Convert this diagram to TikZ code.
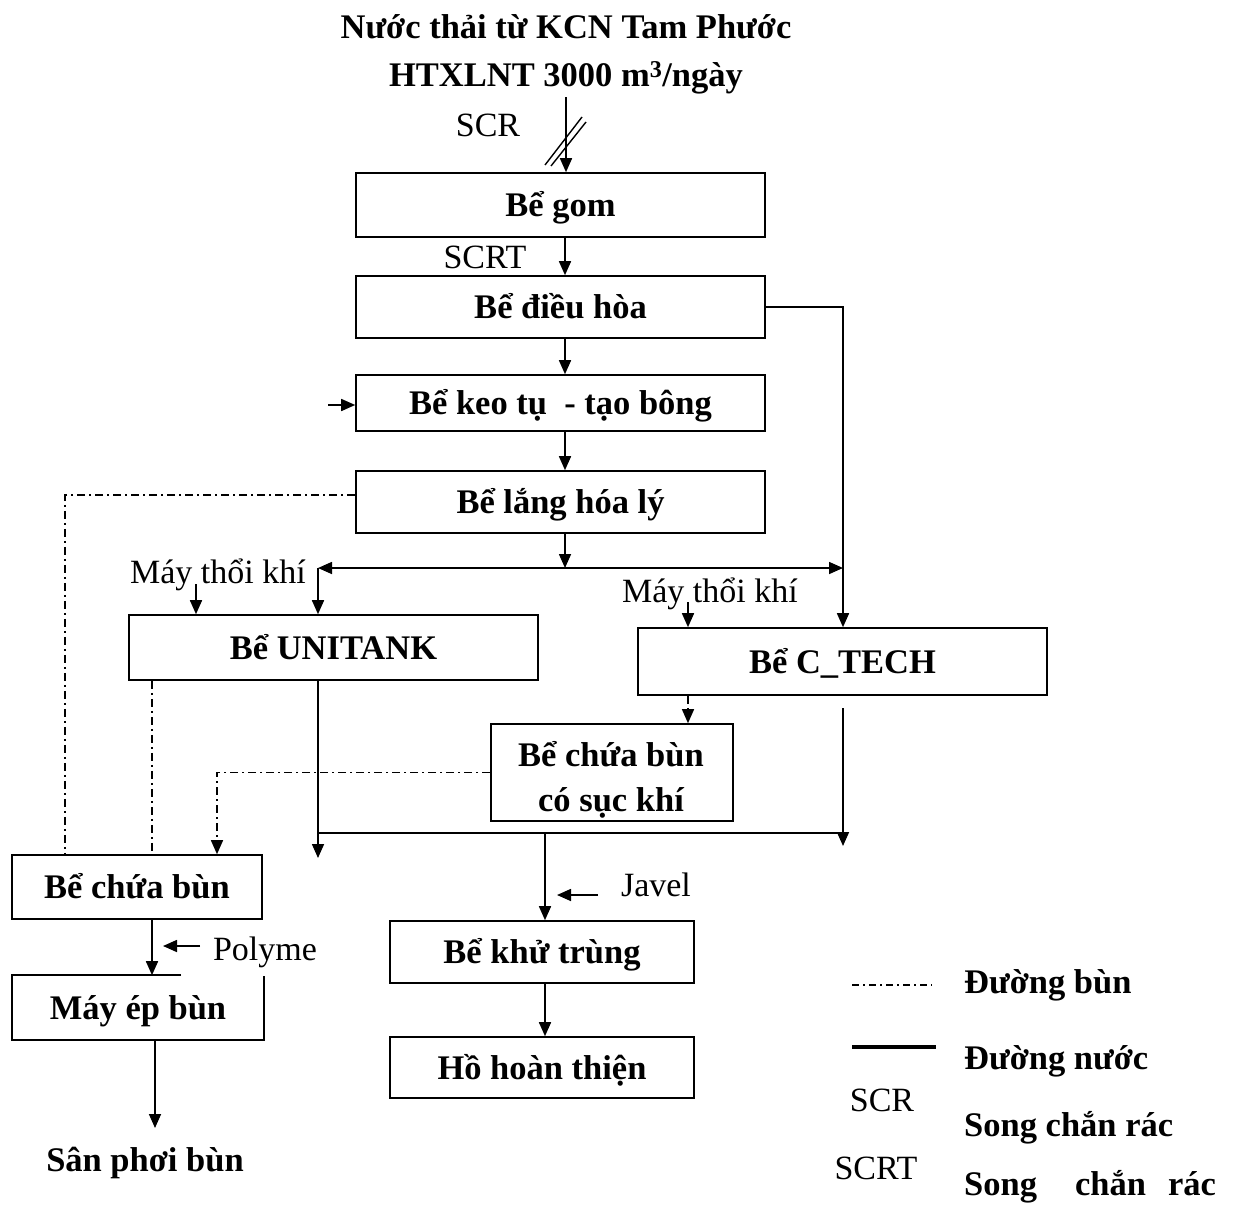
\documentclass[tikz,border=0pt]{standalone}
\usepackage{fontspec}
\setmainfont{Liberation Serif}
\usetikzlibrary{arrows.meta,calc}
\newcommand\fbx{\fontsize{34.5}{42}\selectfont\bfseries}
\newcommand\frg{\fontsize{34}{42}\selectfont}
\begin{document}
\begin{tikzpicture}[x=1pt,y=-1pt,
  wline/.style={line width=1.6pt},
  arr/.style={wline,-{Triangle[length=14pt,width=12pt]}},
  sludge/.style={line width=1.4pt,dash pattern=on 8pt off 4pt on 2pt off 4pt},
  box/.style={draw,line width=1.6pt,inner sep=0pt,font=\fbx,text height=23pt,text depth=0pt},
  lbl/.style={inner sep=0pt,font=\frg,text height=22.5pt,text depth=0pt},
  blbl/.style={inner sep=0pt,font=\fbx,text height=23pt,text depth=0pt}]
\useasboundingbox (0,0) rectangle (1237,1207);
\fill[white] (0,0) rectangle (1237,1207);

% title
\node[blbl] (t1) at (566,27) {Nước thải từ KCN Tam Phước};
\node[blbl] (t2) at (566,75) {HTXLNT 3000 m\textsuperscript{3}/ngày};

% boxes
\node[box,minimum width=409pt,minimum height=64pt] (gom) at (560.5,205) {Bể gom};
\node[box,minimum width=409pt,minimum height=62pt] (dh) at (560.5,307) {Bể điều hòa};
\node[box,minimum width=409pt,minimum height=56pt] (kt) at (560.5,403) {Bể keo tụ\ \ - tạo bông};
\node[box,minimum width=409pt,minimum height=62pt] (lang) at (560.5,502) {Bể lắng hóa lý};
\node[box,minimum width=409pt,minimum height=65pt] (uni) at (333.5,647.5) {Bể UNITANK};
\node[box,minimum width=409pt,minimum height=67pt] (ct) at (842.5,661.5) {Bể C\_TECH};
\node[draw,line width=1.6pt,minimum width=242pt,minimum height=97pt,inner sep=0pt] (sk) at (612,772.5) {};
\node[blbl] (sk1) at (611,755) {Bể chứa bùn};
\node[blbl] (sk2) at (611,800) {có sục khí};
\node[box,minimum width=250pt,minimum height=64pt] (cb) at (137,887) {Bể chứa bùn};
\node[box,draw=none,minimum width=250pt,minimum height=63pt] (mep) at (138,1007.5) {Máy ép bùn};
\draw[wline] ($(mep.north west)+(169,0)$) -- (mep.north west) -- (mep.south west) -- (mep.south east) -- ($(mep.north east)+(0,1)$);
\node[box,minimum width=304pt,minimum height=62pt] (ktr) at (542,952) {Bể khử trùng};
\node[box,minimum width=304pt,minimum height=61pt] (hht) at (542,1067.5) {Hồ hoàn thiện};
\node[blbl] (san) at (145,1160) {Sân phơi bùn};

% labels
\node[lbl] (scr) at (488,125) {SCR};
\node[lbl] (scrt) at (485,257) {SCRT};
\node[lbl] (mtk1) at (218,572) {Máy thổi khí};
\node[lbl] (mtk2) at (710,591) {Máy thổi khí};
\node[lbl] (jav) at (656,885) {Javel};
\node[lbl] (pol) at (265,949) {Polyme};

% coordinates
\coordinate (src) at (566,97);
\coordinate (mx) at (565,0);
\coordinate (j1) at (565,568);
\coordinate (jl) at (318,568);
\coordinate (jr) at (843,568);
\coordinate (b1) at (196,584);
\coordinate (b2) at (688,602);
\coordinate (kf) at (328,405);
\coordinate (x65) at (65,0);
\coordinate (x152) at (152,0);
\coordinate (x217) at (217,0);
\coordinate (h1) at (318,833);
\coordinate (h2) at (843,833);
\coordinate (w1) at (318,858);
\coordinate (c1) at (843,708);
\coordinate (c2) at (843,846);
\coordinate (jk) at (545,833);
\coordinate (jv) at (598,895);
\coordinate (jv2) at (557,895);
\coordinate (p1) at (200,946);
\coordinate (p2) at (163,946);
\coordinate (m1) at (155,0);
\coordinate (sanT) at (155,1128);

% main water line
\draw[arr] (src) -- (src |- gom.north);
\draw[line width=1.4pt] (545,165) -- (582,117);
\draw[line width=1.4pt] (551,166) -- (586,122);
\draw[arr] (gom.south -| mx) -- (dh.north -| mx);
\draw[arr] (dh.south -| mx) -- (kt.north -| mx);
\draw[arr] (kt.south -| mx) -- (lang.north -| mx);
\draw[arr] (kf) -- (kf -| kt.west);
\draw[arr] (lang.south -| mx) -- (j1);
\draw[arr] (j1) -- (jl);
\draw[arr] (j1) -- (jr);
\draw[arr] (jl) -- (jl |- uni.north);
\draw[arr] (dh.east) -| (jr |- ct.north);
\draw[arr] (b1) -- (b1 |- uni.north);
\draw[arr] (b2) -- (b2 |- ct.north);
\draw[arr] (uni.south -| h1) -- (w1);
\draw[wline] (h1) -- (h2);
\draw[arr] (c1) -- (c2);
\draw[arr] (jk) -- (jk |- ktr.north);
\draw[arr] (jv) -- (jv2);
\draw[arr] (ktr.south -| jk) -- (hht.north -| jk);
\draw[arr] (cb.south -| x152) -- (x152 |- mep.north);
\draw[arr] (p1) -- (p2);
\draw[arr] (mep.south -| m1) -- (sanT);

% sludge lines
\draw[sludge] ([yshift=7pt]lang.west) -| (x65 |- cb.north);
\draw[sludge] (uni.south -| x152) -- (x152 |- cb.north);
\draw[sludge,-{Triangle[length=14pt,width=12pt]}] (ct.south -| b2) -- (b2 |- sk.north);
\draw[sludge,-{Triangle[length=14pt,width=12pt]}] (sk.west) -| (x217 |- cb.north);

% legend
\coordinate (lg1) at (852,985);
\coordinate (lg2) at (932,985);
\coordinate (lg3) at (852,1047);
\coordinate (lg4) at (936,1047);
\draw[line width=1.2pt,dash pattern=on 7pt off 4pt on 2pt off 4pt] (lg1) -- (lg2);
\draw[line width=3.5pt] (lg3) -- (lg4);
\node[blbl,anchor=west] (lgt1) at (964,982) {Đường bùn};
\node[blbl,anchor=west] (lgt2) at (964,1058) {Đường nước};
\node[lbl] (lgs1) at (882,1100) {SCR};
\node[blbl,anchor=west] (lgt3) at (964,1125) {Song chắn rác};
\node[lbl] (lgs2) at (876,1168) {SCRT};
\node[blbl,anchor=west] (lgt4) at (964,1184) {Song\hspace{38pt}chắn\hspace{22pt}rác};
\end{tikzpicture}
\end{document}
